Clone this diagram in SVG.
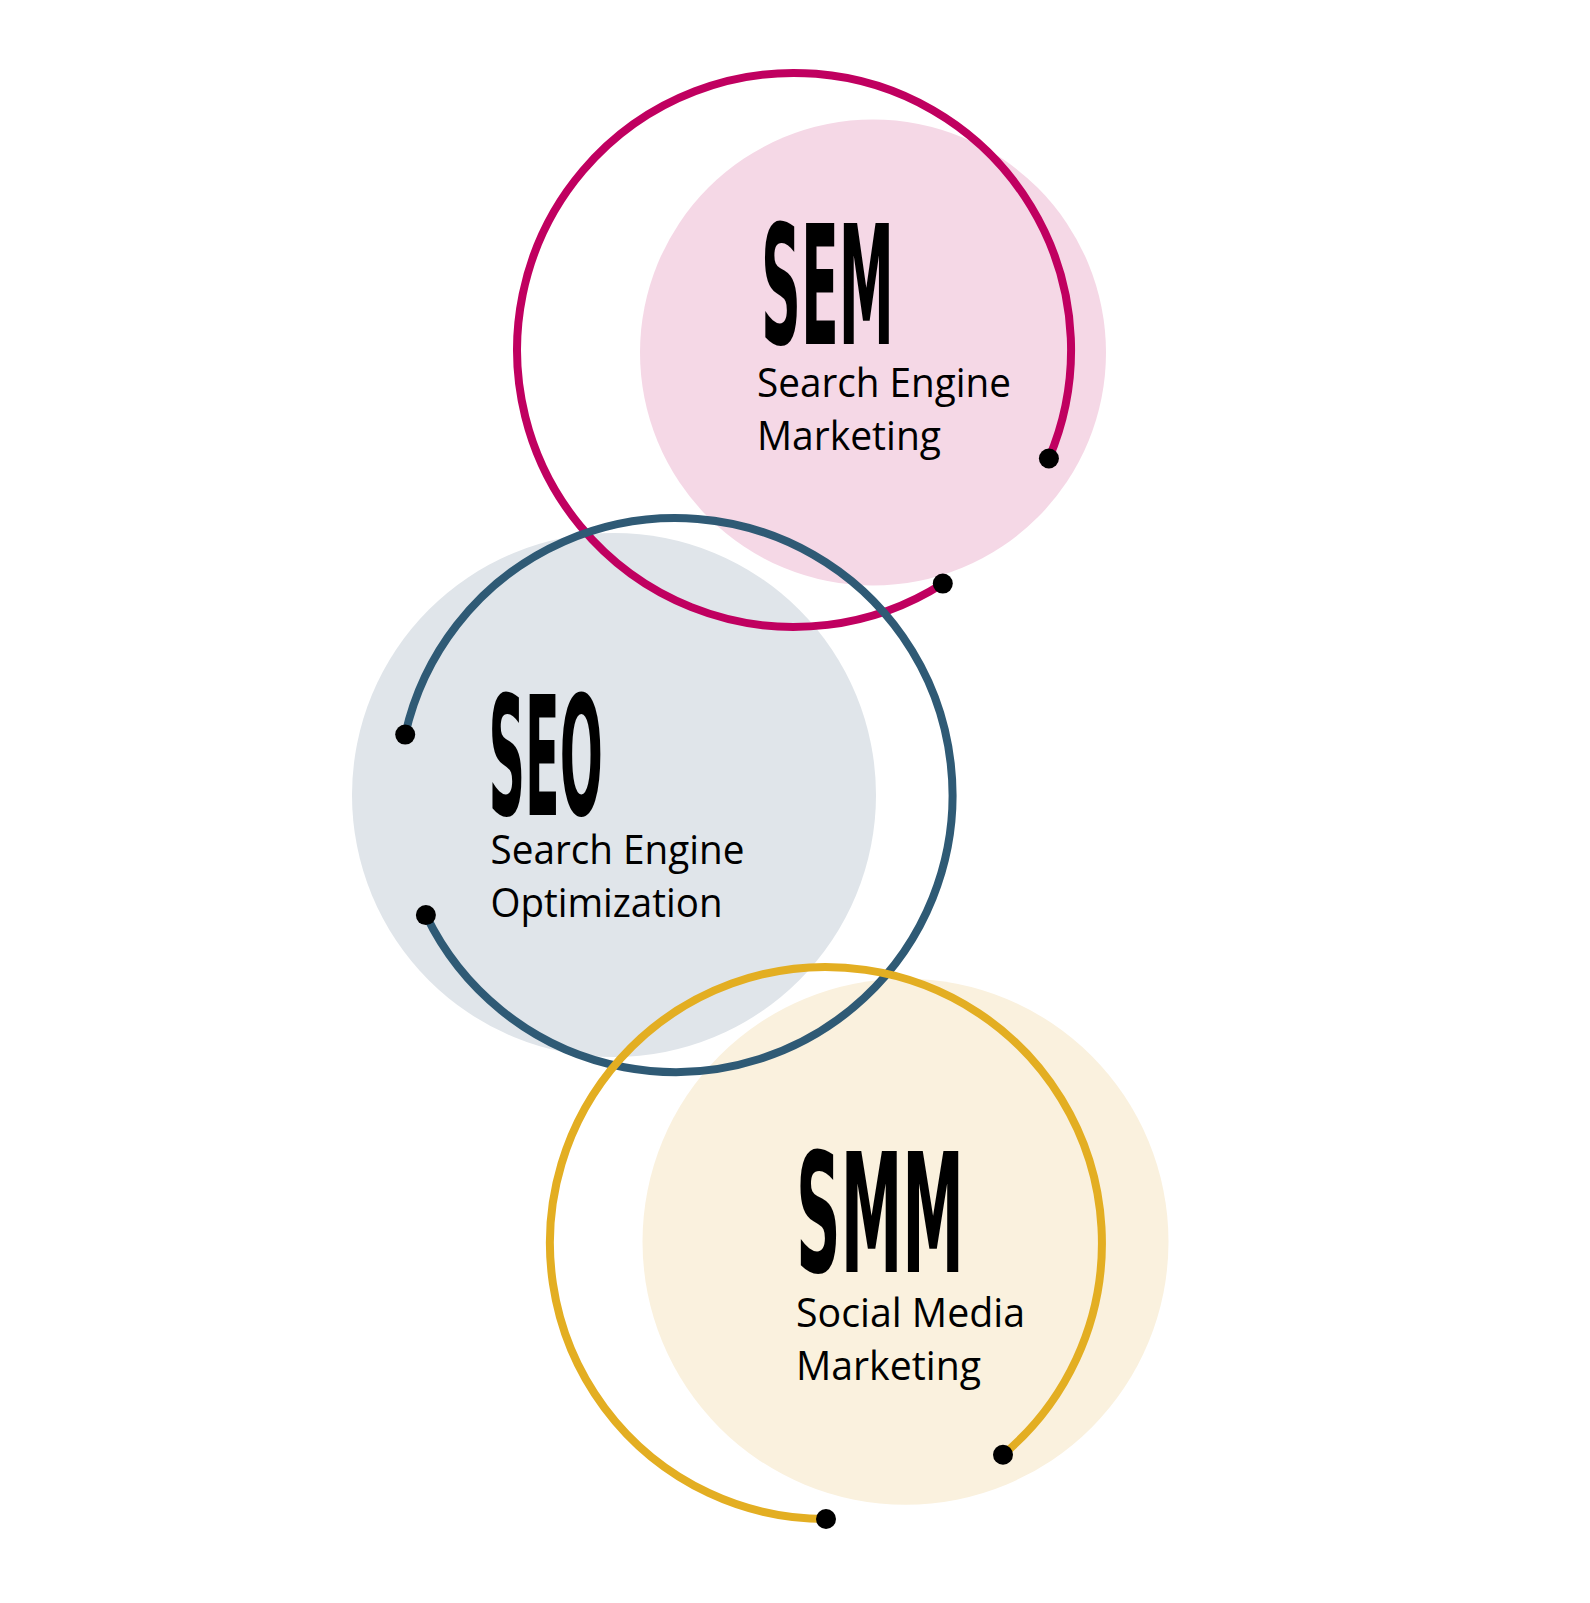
<svg xmlns="http://www.w3.org/2000/svg" width="1590" height="1603" viewBox="0 0 1590 1603">
  <style>
    .ring { fill: none; stroke-width: 8; stroke-linecap: butt; }
    .dot { fill: #000; }
    .title { font-family: "Liberation Sans Narrow", "DejaVu Sans Condensed", "Liberation Sans", sans-serif; font-weight: bold; font-size: 166px; fill: #000; }
    .sub { font-family: "Open Sans", "Noto Sans", "Liberation Sans", sans-serif; font-size: 40px; fill: #000; }
  </style>
  <rect width="1590" height="1603" fill="#ffffff"/>
  <g id="backdrops">
    <circle id="sem-fill" cx="873" cy="352.6" r="233" fill="#F5D8E6"/>
    <circle id="seo-fill" cx="614" cy="795" r="262" fill="#E0E5EA"/>
    <circle id="smm-fill" cx="905.5" cy="1241.7" r="263" fill="#FAF1DE"/>
  </g>
  <g id="connectors">
    <path id="sem-ring" class="ring" stroke="#C00060" d="M 1048.9 458.5 A 277 277 0 1 0 942.8 583.6"/>
    <path id="seo-ring" class="ring" stroke="#2F5A75" d="M 405.2 734.6 A 277 277 0 1 1 425.9 915.1"/>
    <path id="smm-ring" class="ring" stroke="#E3AE22" d="M 1003 1454.7 A 276 276 0 1 0 826 1519"/>
  </g>
  <g id="node-sem">
    <circle class="dot" cx="1048.9" cy="458.5" r="10"/>
    <circle class="dot" cx="942.8" cy="583.6" r="10"/>
    <text class="title" x="761" y="344" textLength="133" lengthAdjust="spacingAndGlyphs">SEM</text>
    <text class="sub" x="757" y="396.5" textLength="254" lengthAdjust="spacingAndGlyphs">Search Engine</text>
    <text class="sub" x="757" y="450" textLength="184" lengthAdjust="spacingAndGlyphs">Marketing</text>
  </g>
  <g id="node-seo">
    <circle class="dot" cx="405.2" cy="734.6" r="10"/>
    <circle class="dot" cx="425.9" cy="915.1" r="10"/>
    <text class="title" x="488.5" y="814.5" textLength="114.5" lengthAdjust="spacingAndGlyphs">SEO</text>
    <text class="sub" x="490.5" y="863.6" textLength="254" lengthAdjust="spacingAndGlyphs">Search Engine</text>
    <text class="sub" x="490.5" y="917" textLength="232" lengthAdjust="spacingAndGlyphs">Optimization</text>
  </g>
  <g id="node-smm">
    <circle class="dot" cx="1003" cy="1454.7" r="10"/>
    <circle class="dot" cx="826" cy="1519" r="10"/>
    <text class="title" x="796" y="1272" textLength="168" lengthAdjust="spacingAndGlyphs">SMM</text>
    <text class="sub" x="796" y="1326.5" textLength="229" lengthAdjust="spacingAndGlyphs">Social Media</text>
    <text class="sub" x="796" y="1380" textLength="185" lengthAdjust="spacingAndGlyphs">Marketing</text>
  </g>
</svg>
